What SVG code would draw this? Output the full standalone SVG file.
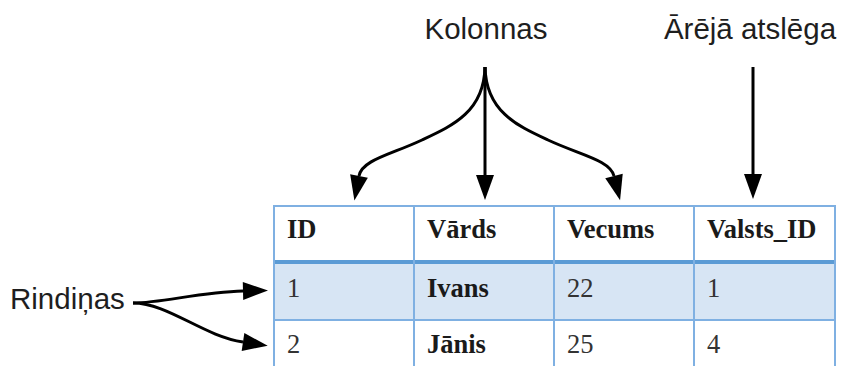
<svg xmlns="http://www.w3.org/2000/svg" width="842" height="366" viewBox="0 0 842 366">
<style>
.lbl{font-family:"Liberation Sans",Arial,sans-serif;font-size:29.5px;fill:#1e1e1e}
.th{font-family:"Liberation Serif","Times New Roman",serif;font-size:26.5px;font-weight:bold;fill:#1a1a1a}
.td{font-family:"Liberation Serif","Times New Roman",serif;font-size:26.5px;fill:#333}
.tdb{font-family:"Liberation Serif","Times New Roman",serif;font-size:26.5px;font-weight:bold;fill:#1a1a1a}
.grid{stroke:#7fb0e2;stroke-width:2;fill:none}
.arr{stroke:#000;stroke-width:3;fill:none;marker-end:url(#ah)}
</style>
<defs>
<marker id="ah" markerUnits="userSpaceOnUse" markerWidth="26" markerHeight="20" refX="0" refY="9" orient="auto" overflow="visible">
<path d="M0,0 L25,9 L0,18 z" fill="#000"/>
</marker>
</defs>
<rect width="842" height="366" fill="#fff"/>
<g id="table">
<rect x="273" y="263" width="562" height="57" fill="#d7e5f4"/>
<line class="grid" x1="273" y1="206" x2="835" y2="206"/>
<line class="grid" x1="273" y1="320" x2="835" y2="320"/>
<rect x="273" y="260" width="562" height="4" fill="#5b9bd5"/>
<line class="grid" x1="274" y1="205" x2="274" y2="366"/>
<line class="grid" x1="414" y1="205" x2="414" y2="366"/>
<line class="grid" x1="554" y1="205" x2="554" y2="366"/>
<line class="grid" x1="694" y1="205" x2="694" y2="366"/>
<line class="grid" x1="835" y1="205" x2="835" y2="366"/>
<text class="th" x="287" y="238">ID</text>
<text class="th" x="427" y="238">Vārds</text>
<text class="th" x="567" y="238">Vecums</text>
<text class="th" x="707" y="238">Valsts_ID</text>
<text class="td" x="287" y="297">1</text>
<text class="tdb" x="427" y="297">Ivans</text>
<text class="td" x="567" y="297">22</text>
<text class="td" x="707" y="297">1</text>
<text class="td" x="287" y="353">2</text>
<text class="tdb" x="427" y="353">Jānis</text>
<text class="td" x="567" y="353">25</text>
<text class="td" x="707" y="353">4</text>
</g>
<g id="kolonnas"><text class="lbl" x="486" y="39" text-anchor="middle">Kolonnas</text></g>
<g id="arejaatslega"><text class="lbl" x="750" y="39" text-anchor="middle">Ārējā atslēga</text></g>
<g id="rindinas"><text class="lbl" x="10" y="309">Rindiņas</text></g>
<g id="connectors">
<path class="arr" d="M485,67 C484,112 452,126 422,140 C390,155 362,160 359,176"/>
<path class="arr" d="M485,67 L485,175"/>
<path class="arr" d="M485,67 C486,112 518,126 548,140 C580,155 610,160 614,176"/>
<path class="arr" d="M753,67 L753,174"/>
<path class="arr" d="M133,303 C162,303 200,292 243,291"/>
<path class="arr" d="M133,303 C168,303 203,336 243,342"/>
</g>
</svg>
